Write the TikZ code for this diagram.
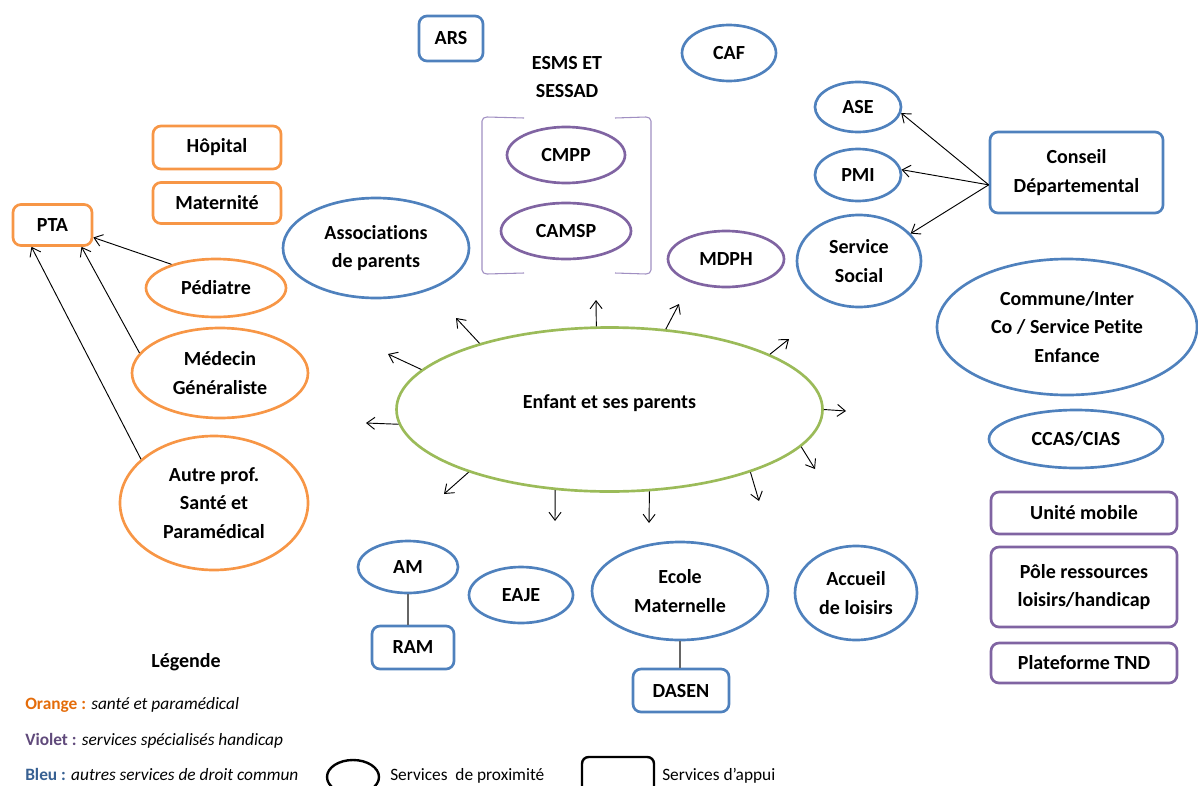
\documentclass[tikz,border=0pt]{standalone}
\usepackage{fontspec}
\setmainfont{Carlito}[Ligatures=NoCommon]
\usetikzlibrary{shapes.geometric,arrows.meta}
\definecolor{oran}{HTML}{F79646}
\definecolor{bleu}{HTML}{4F81BD}
\definecolor{viol}{HTML}{8064A2}
\definecolor{vert}{HTML}{9BBB59}
\definecolor{lviol}{HTML}{A08FC2}
\definecolor{oranT}{HTML}{E46C0A}
\definecolor{violT}{HTML}{604A7B}
\definecolor{bleuT}{HTML}{376092}
\begin{document}
\begin{tikzpicture}[x=0.75pt,y=-0.75pt,
 lbl/.style={font=\bfseries\fontsize{15}{21.5}\selectfont, align=center, inner sep=0pt, text=black},
 ov/.style 2 args={lbl, ellipse, draw, line width=2pt, minimum width=#1*1.5pt, minimum height=#2*1.5pt},
 bx/.style 2 args={lbl, rectangle, rounded corners=6pt, draw, line width=2pt, minimum width=#1*0.75pt, minimum height=#2*0.75pt},
 arr/.style={line width=0.7pt, -{Straight Barb[length=6pt,width=9pt]}},
 lnk/.style={line width=0.9pt, draw=black!60},
 legtxt/.style={anchor=base west, inner sep=0pt, font=\fontsize{13}{15}\selectfont},
]
\useasboundingbox (0,0) rectangle (1198,785);
\clip (0,0) rectangle (1198,785);

% top
\node[bx={64}{45}, draw=bleu] (ars) at (451,38.5) {ARS};
\node[lbl] (esms) at (567,77) {ESMS ET\\SESSAD};
\node[ov={47}{28}, draw=bleu] (caf) at (729,53) {CAF};
\draw[lviol, line width=0.8pt] (524,118) -- (487,117) to[out=180,in=90] (482,121) -- (482,270) to[out=-90,in=180] (487,274) -- (524,273);
\draw[lviol, line width=0.8pt] (615,118) -- (646,117) to[out=0,in=90] (651,121) -- (651,270) to[out=-90,in=0] (646,274) -- (615,273);
\node[ov={59}{28}, draw=viol] (cmpp) at (566,155) {CMPP};
\node[ov={65}{28}, draw=viol] (camsp) at (566,231) {CAMSP};
\node[ov={58}{28}, draw=viol] (mdph) at (726,259) {MDPH};
\node[ov={93}{50}, draw=bleu] (asso) at (376,248) {Associations\\de parents};

% left (health)
\node[bx={128}{43}, draw=oran] (hop) at (217,147.5) {Hôpital};
\node[bx={128}{41}, draw=oran] (mat) at (217,203) {Maternité};
\node[bx={79}{41}, draw=oran] (pta) at (52.5,225) {PTA};
\node[ov={70}{29}, draw=oran] (ped) at (216,288) {Pédiatre};
\node[ov={88}{45}, draw=oran] (med) at (220,373) {Médecin\\Généraliste};
\node[ov={94}{67}, draw=oran] (autre) at (214,503) {Autre prof.\\Santé et\\Paramédical};
\draw[arr] (ped.152) -- (pta.-17);
\draw[arr] (med.166) -- (pta.-37);
\draw[arr] (autre.149) -- (pta.-134);

% right
\node[ov={43}{25}, draw=bleu] (ase) at (858,107) {ASE};
\node[ov={43}{26}, draw=bleu] (pmi) at (858,175) {PMI};
\node[ov={62}{46}, draw=bleu] (ss) at (859,261) {Service\\Social};
\node[bx={173}{81}, draw=bleu] (cd) at (1076.5,172.5) {Conseil\\Départemental};
\draw[arr] (cd.188) -- (ase.-8);
\draw[arr] (cd.188) -- (pmi.7);
\draw[arr] (cd.188) -- (ss.28);
\node[ov={130}{68}, draw=bleu] (comm) at (1067,327) {Commune/Inter\\Co / Service Petite\\Enfance};
\node[ov={87}{29}, draw=bleu] (ccas) at (1076,439) {CCAS/CIAS};
\node[bx={186}{42}, draw=viol] (um) at (1084,513) {Unité mobile};
\node[bx={186}{80}, draw=viol] (pole) at (1084,587) {Pôle ressources\\loisirs/handicap};
\node[bx={186}{40}, draw=viol] (tnd) at (1084,663) {Plateforme TND};

% centre
\node[ov={213}{82}, draw=vert, text height=11pt, text depth=12pt] (enf) at (609.5,409.5) {Enfant et ses parents};
\coordinate (e1) at (596,300);
\coordinate (e2) at (679,304);
\coordinate (e3) at (789,339);
\coordinate (e4) at (846,411);
\coordinate (e5) at (815,469);
\coordinate (e6) at (759,501);
\coordinate (e7) at (649,523);
\coordinate (e8) at (555,521);
\coordinate (e9) at (444,494);
\coordinate (e10) at (366,423);
\coordinate (e11) at (388,354);
\coordinate (e12) at (456,318);
\foreach \a/\e in {99/e1,55/e2,19/e3,0/e4,-11/e5,-24/e6,-64/e7,-124/e8,-156/e9,184/e10,168/e11,153/e12}
  \draw[arr] (enf.\a) -- (\e);

% bottom
\node[ov={50}{26}, draw=bleu] (am) at (408,567) {AM};
\node[bx={82}{43}, draw=bleu] (ram) at (413,647.5) {RAM};
\draw[lnk] (am.south) -- (am.south |- ram.north);
\node[ov={52}{28}, draw=bleu] (eaje) at (521,595) {EAJE};
\node[ov={88}{49}, draw=bleu] (ecole) at (680,591) {Ecole\\Maternelle};
\node[bx={96}{43}, draw=bleu] (dasen) at (681,690.5) {DASEN};
\draw[lnk] (ecole.south) -- (ecole.south |- dasen.north);
\node[ov={61}{47}, draw=bleu] (acc) at (856,593) {Accueil\\de loisirs};

% legend
\node[lbl] (leg) at (186,662) {Légende};
\node[legtxt] (lo) at (25,709) {\textcolor{oranT}{\bfseries Orange :} \textit{santé et paramédical}};
\node[legtxt] (lv) at (25,745) {\textcolor{violT}{\bfseries Violet :} \textit{services spécialisés handicap}};
\node[legtxt] (lb) at (25,780) {\textcolor{bleuT}{\bfseries Bleu :} \textit{autres services de droit commun}};
\node[ellipse, draw, line width=1.8pt, minimum width=52*0.75pt, minimum height=34*0.75pt] (lgov) at (353,777) {};
\node[legtxt] (lp) at (390,780) {Services~ de proximité};
\node[rectangle, rounded corners=5pt, draw, line width=1.8pt, minimum width=72*0.75pt, minimum height=50*0.75pt] (lgbx) at (618,782) {};
\node[legtxt] (la) at (662,780) {Services d’appui};
\end{tikzpicture}
\end{document}
